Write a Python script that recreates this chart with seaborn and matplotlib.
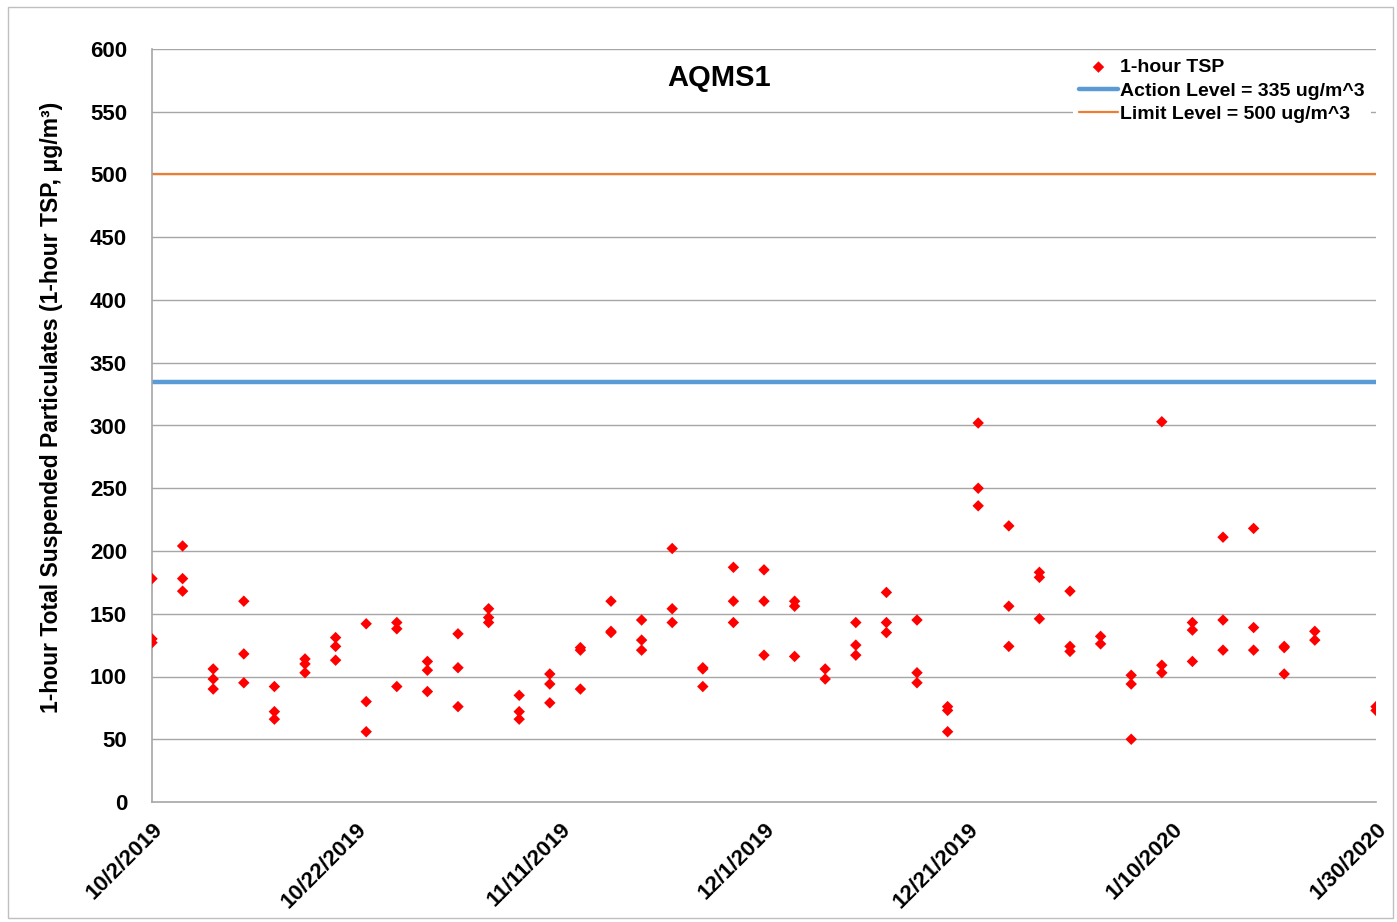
import datetime as dt
import matplotlib
matplotlib.use("Agg")
import matplotlib.pyplot as plt
import matplotlib.dates as mdates
import matplotlib.ticker as mticker
from matplotlib.patches import Rectangle
import pandas as pd
import seaborn as sns

# ---- data ----
sample_dates = ["2019-10-02", "2019-10-05", "2019-10-08", "2019-10-11", "2019-10-14",
                "2019-10-17", "2019-10-20", "2019-10-23", "2019-10-26", "2019-10-29",
                "2019-11-01", "2019-11-04", "2019-11-07", "2019-11-10", "2019-11-13",
                "2019-11-16", "2019-11-19", "2019-11-22", "2019-11-25", "2019-11-28",
                "2019-12-01", "2019-12-04", "2019-12-07", "2019-12-10", "2019-12-13",
                "2019-12-16", "2019-12-19", "2019-12-22", "2019-12-25", "2019-12-28",
                "2019-12-31", "2020-01-03", "2020-01-06", "2020-01-09", "2020-01-12",
                "2020-01-15", "2020-01-18", "2020-01-21", "2020-01-24", "2020-01-30"]
tsp_values = [[178, 130, 127], [204, 178, 168], [106, 98, 90], [160, 118, 95], [92, 72, 66],
              [114, 110, 103], [131, 124, 113], [142, 80, 56], [143, 138, 92], [112, 105, 88],
              [134, 107, 76], [154, 147, 143], [85, 72, 66], [102, 94, 79], [123, 121, 90],
              [160, 136, 135], [145, 129, 121], [202, 154, 143], [107, 106, 92], [187, 160, 143],
              [185, 160, 117], [160, 156, 116], [106, 98], [143, 125, 117], [167, 143, 135],
              [145, 103, 95], [76, 73, 56], [302, 250, 236], [220, 156, 124], [183, 179, 146],
              [168, 124, 120], [132, 126], [101, 94, 50], [303, 109, 103], [143, 137, 112],
              [211, 145, 121], [218, 139, 121], [124, 123, 102], [136, 129], [76, 73]]
action_level = 335
limit_level = 500
y_ticks = [0, 50, 100, 150, 200, 250, 300, 350, 400, 450, 500, 550, 600]
x_tick_dates = ["2019-10-02", "2019-10-22", "2019-11-11", "2019-12-01",
                "2019-12-21", "2020-01-10", "2020-01-30"]
title = "AQMS1"
y_label = "1-hour Total Suspended Particulates (1-hour TSP, μg/m³)"
legend_labels = ["1-hour TSP", "Action Level = 335 ug/m^3", "Limit Level = 500 ug/m^3"]

rows = []
for d, vals in zip(sample_dates, tsp_values):
    for v in vals:
        rows.append({"date": pd.Timestamp(d), "tsp": v})
df = pd.DataFrame(rows)

# ---- style ----
sns.set_style("white")
plt.rcParams["font.family"] = ["Liberation Sans", "DejaVu Sans"]
plt.rcParams["font.weight"] = "bold"
plt.rcParams["text.color"] = "black"
plt.rcParams["xtick.labelcolor"] = "black"
plt.rcParams["ytick.labelcolor"] = "black"

W, H = 1397, 922
fig = plt.figure(figsize=(W / 100, H / 100), dpi=100)
ax = fig.add_axes([152 / W, 1 - 802 / H, (1376 - 152) / W, (802 - 49) / H])

grid_c = "#a6a6a6"
for yt in y_ticks[1:]:
    ax.axhline(yt, color=grid_c, lw=1.0, zorder=0)

ax.axhline(action_level, color="#5b9bd5", lw=3.2, zorder=2, label=legend_labels[1])
ax.axhline(limit_level, color="#ed7d31", lw=1.6, zorder=2, label=legend_labels[2])

sns.scatterplot(data=df, x="date", y="tsp", ax=ax, marker="D", color="#ff0000",
                s=34, edgecolor="none", linewidth=0, zorder=3, label=legend_labels[0])

ax.set_xlim(pd.Timestamp(x_tick_dates[0]), pd.Timestamp(x_tick_dates[-1]))
ax.set_ylim(0, 600)
ax.set_yticks(y_ticks)
ax.set_xticks([pd.Timestamp(d) for d in x_tick_dates])
ax.xaxis.set_major_formatter(mticker.FuncFormatter(
    lambda x, pos: (lambda d: f"{d.month}/{d.day}/{d.year}")(mdates.num2date(x))))

for s in ["top", "right"]:
    ax.spines[s].set_visible(False)
for s in ["left", "bottom"]:
    ax.spines[s].set_color(grid_c)
    ax.spines[s].set_linewidth(1.2)

ax.tick_params(axis="both", which="major", direction="out", length=7, width=1,
               color=grid_c, labelsize=16, labelcolor="black")
ax.tick_params(axis="y", pad=11)
ax.tick_params(axis="x", pad=5)
for lab in ax.get_xticklabels():
    lab.set_rotation(45)
    lab.set_ha("right")
    lab.set_rotation_mode("anchor")
    lab.set_fontweight("bold")
for lab in ax.get_yticklabels():
    lab.set_fontweight("bold")

ax.set_xlabel("")
ax.set_ylabel("")
fig.text(52 / W, 1 - 407 / H, y_label, rotation=90, ha="center", va="center",
         fontsize=16.5, fontweight="bold", color="black")

fig.text(719 / W, 1 - 78 / H, title, ha="center", va="center",
         fontsize=21, fontweight="bold", color="black")

handles, labels = ax.get_legend_handles_labels()
order = [labels.index(l) for l in legend_labels]
leg = ax.legend([handles[i] for i in order], [labels[i] for i in order],
                loc="upper left", bbox_to_anchor=(1063 / W, 1 - 43 / H),
                bbox_transform=fig.transFigure, frameon=True, facecolor="white",
                edgecolor="none", framealpha=1, fancybox=False,
                handlelength=2.05, handletextpad=0.1, labelspacing=0.3,
                borderpad=0.3, prop={"weight": "bold", "size": 14})
for t in leg.get_texts():
    t.set_color("black")
leg.set_zorder(5)

fig.patches.append(Rectangle((8 / W, 4 / H), 1385 / W, 911 / H,
                             transform=fig.transFigure, fill=False,
                             edgecolor="#bfbfbf", lw=1))

fig.savefig("out.png", dpi=100, facecolor="white")
